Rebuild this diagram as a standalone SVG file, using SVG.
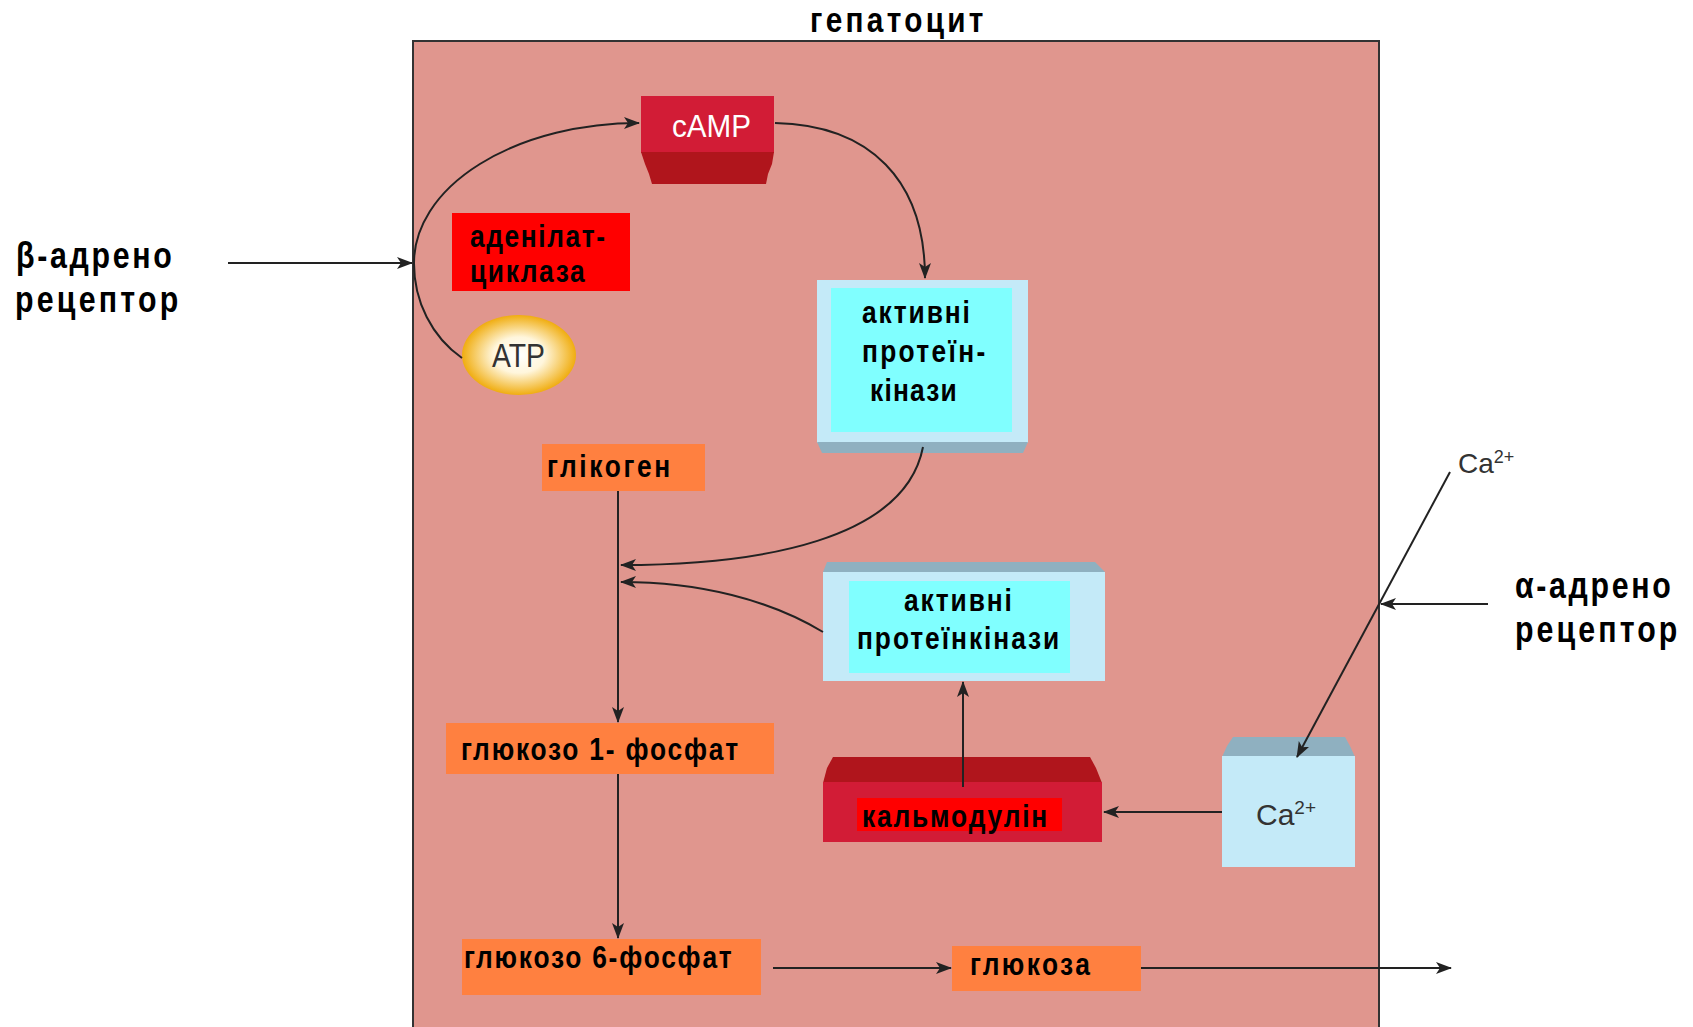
<svg xmlns="http://www.w3.org/2000/svg" width="1693" height="1027" viewBox="0 0 1693 1027">
<defs>
<style>
.lb{font-family:"Liberation Sans",Arial,sans-serif;font-weight:bold;fill:#000}
.big{font-size:37px}
.box{font-size:31px}
.rg{font-family:"Liberation Sans",Arial,sans-serif;font-weight:normal}
.cn{fill:none;stroke:#222;stroke-width:2}
.org{fill:#ff8040}
.lblue{fill:#c4eaf8}
.cyan{fill:#80ffff}
.gblue{fill:#8fb0c0}
</style>
<marker id="ah" viewBox="0 0 16 12" refX="15" refY="6" markerWidth="16" markerHeight="12" markerUnits="userSpaceOnUse" orient="auto">
<path d="M0,0 L16,6 L0,12 L4,6 z" fill="#222"/>
</marker>
<radialGradient id="atpg" cx="0.5" cy="0.5" r="0.5">
<stop offset="0" stop-color="#ffffff"/>
<stop offset="0.45" stop-color="#fff6dc"/>
<stop offset="1" stop-color="#f0ad10"/>
</radialGradient>
</defs>
<rect width="1693" height="1027" fill="#ffffff"/>

<g id="hepatocyte">
<rect x="413" y="41" width="966" height="1000" fill="#e0968e" stroke="#333" stroke-width="2"/>
<text class="lb" font-size="35" transform="translate(810,32) scale(0.85,1)" textLength="204" lengthAdjust="spacing">гепатоцит</text>
</g>

<g id="beta-receptor">
<text class="lb big" transform="translate(16,268) scale(0.82,1)" textLength="190" lengthAdjust="spacing">β-адрено</text>
<text class="lb big" transform="translate(15,312) scale(0.82,1)" textLength="199" lengthAdjust="spacing">рецептор</text>
</g>

<g id="alpha-receptor">
<text class="lb big" transform="translate(1515,598) scale(0.82,1)" textLength="190" lengthAdjust="spacing">α-адрено</text>
<text class="lb big" transform="translate(1515,642) scale(0.82,1)" textLength="198" lengthAdjust="spacing">рецептор</text>
</g>

<g id="camp">
<rect x="641" y="96" width="133" height="57" fill="#d21c36"/>
<polygon points="641,152 774,152 772,164 768,174 766,184 652,184 649,174 645,164" fill="#b0151c"/>
<text class="rg" x="672" y="137" font-size="32" fill="#ffffff" textLength="79" lengthAdjust="spacingAndGlyphs">cAMP</text>
</g>

<g id="adenylate-cyclase">
<rect x="452" y="213" width="178" height="78" fill="#ff0000"/>
<text class="lb box" transform="translate(470,247) scale(0.85,1)" textLength="159" lengthAdjust="spacing">аденілат-</text>
<text class="lb box" transform="translate(470,282) scale(0.85,1)" textLength="135" lengthAdjust="spacing">циклаза</text>
</g>

<g id="atp">
<ellipse cx="519" cy="355" rx="57" ry="40" fill="url(#atpg)"/>
<text class="rg" x="492" y="367" font-size="33" fill="#333" textLength="53" lengthAdjust="spacingAndGlyphs">ATP</text>
</g>

<g id="protein-kinases-1">
<rect class="lblue" x="817" y="280" width="211" height="163"/>
<polygon class="gblue" points="817,442 1028,442 1023,453 822,453"/>
<rect class="cyan" x="831" y="288" width="181" height="144"/>
<text class="lb box" transform="translate(862,323) scale(0.85,1)" textLength="127" lengthAdjust="spacing">активні</text>
<text class="lb box" transform="translate(862,362) scale(0.85,1)" textLength="145" lengthAdjust="spacing">протеїн-</text>
<text class="lb box" transform="translate(870,401) scale(0.85,1)" textLength="102" lengthAdjust="spacing">кінази</text>
</g>

<g id="glycogen">
<rect class="org" x="542" y="444" width="163" height="47"/>
<text class="lb box" transform="translate(547,477) scale(0.85,1)" textLength="145" lengthAdjust="spacing">глікоген</text>
</g>

<g id="protein-kinases-2">
<polygon class="gblue" points="827,562 1095,562 1105,572 823,572"/>
<rect class="lblue" x="823" y="572" width="282" height="109"/>
<rect class="cyan" x="849" y="581" width="221" height="92"/>
<text class="lb box" transform="translate(904,611) scale(0.85,1)" textLength="127" lengthAdjust="spacing">активні</text>
<text class="lb box" transform="translate(857,649) scale(0.85,1)" textLength="238" lengthAdjust="spacing">протеїнкінази</text>
</g>

<g id="calmodulin">
<polygon points="833,757 1090,757 1096,768 1102,783 823,783 827,768" fill="#b0151c"/>
<rect x="823" y="782" width="279" height="60" fill="#d21c36"/>
<rect x="857" y="798" width="205" height="33" fill="#ff0000"/>
<text class="lb box" transform="translate(862,827) scale(0.85,1)" textLength="218" lengthAdjust="spacing">кальмодулін</text>
</g>

<g id="ca-box">
<polygon class="gblue" points="1233,737 1345,737 1350,746 1355,757 1222,757 1227,746"/>
<rect class="lblue" x="1222" y="756" width="133" height="111"/>
<text class="rg" x="1256" y="825" font-size="30" fill="#333">Ca<tspan font-size="19" dy="-11">2+</tspan></text>
</g>

<g id="ca-outside">
<text class="rg" x="1458" y="473" font-size="28" fill="#333">Ca<tspan font-size="18" dy="-10">2+</tspan></text>
</g>

<g id="glucose-1-phosphate">
<rect class="org" x="446" y="723" width="328" height="51"/>
<text class="lb box" transform="translate(461,760) scale(0.85,1)" textLength="326" lengthAdjust="spacing">глюкозо 1- фосфат</text>
</g>

<g id="glucose-6-phosphate">
<rect class="org" x="462" y="939" width="299" height="56"/>
<text class="lb box" transform="translate(464,968) scale(0.85,1)" textLength="315" lengthAdjust="spacing">глюкозо 6-фосфат</text>
</g>

<g id="glucose">
<rect class="org" x="952" y="946" width="189" height="45"/>
<text class="lb box" transform="translate(970,975) scale(0.85,1)" textLength="141" lengthAdjust="spacing">глюкоза</text>
</g>

<g id="connectors">
<line class="cn" x1="228" y1="263" x2="412" y2="263" marker-end="url(#ah)"/>
<path class="cn" d="M462,358 A106,113 0 0 1 414,263 A225,140 0 0 1 639,123" marker-end="url(#ah)"/>
<path class="cn" d="M775,123 C870,125 925,180 925,278" marker-end="url(#ah)"/>
<path class="cn" d="M923,447 C905,540 760,565 621,565" marker-end="url(#ah)"/>
<path class="cn" d="M823,632 C770,600 700,582 621,582" marker-end="url(#ah)"/>
<line class="cn" x1="618" y1="491" x2="618" y2="722" marker-end="url(#ah)"/>
<line class="cn" x1="618" y1="774" x2="618" y2="938" marker-end="url(#ah)"/>
<line class="cn" x1="773" y1="968" x2="951" y2="968" marker-end="url(#ah)"/>
<line class="cn" x1="1141" y1="968" x2="1451" y2="968" marker-end="url(#ah)"/>
<line class="cn" x1="963" y1="787" x2="963" y2="682" marker-end="url(#ah)"/>
<line class="cn" x1="1222" y1="812" x2="1104" y2="812" marker-end="url(#ah)"/>
<line class="cn" x1="1450" y1="472" x2="1297" y2="757" marker-end="url(#ah)"/>
<line class="cn" x1="1488" y1="604" x2="1381" y2="604" marker-end="url(#ah)"/>
</g>
</svg>
